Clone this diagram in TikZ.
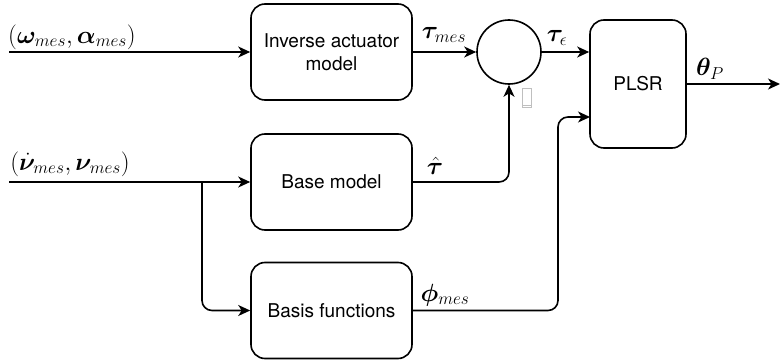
\documentclass[tikz,border=0pt]{standalone}
\usepackage{amsmath}
\usepackage{bm}
\usepackage{fontspec}
\setsansfont{TeX Gyre Heros}
\usetikzlibrary{arrows.meta}

\tikzset{
  block/.style={draw, rounded corners=14pt, minimum width=161pt, minimum height=96pt,
    align=center, font=\sffamily\fontsize{19}{23}\selectfont},
  lbl/.style={inner sep=0pt, font=\fontsize{23.5}{28}\selectfont},
  flow/.style={-{Stealth[length=12pt,width=11pt,inset=3.5pt]}}
}

\begin{document}
\begin{tikzpicture}[x=1pt, y=-1pt, line width=1.6pt]
          \useasboundingbox (0,0) rectangle (780,364);
          % blocks
          \node[block] (inv) at (331.5,52) {Inverse actuator\\model};
          \node[block] (base) at (331.5,182) {Base model};
          \node[block] (basis) at (331.5,310.5) {Basis functions};
          \node[circle, draw, minimum size=64pt, inner sep=0pt] (sum) at (509,52) {};
          \node[block, minimum width=96pt, minimum height=128pt] (plsr) at (638,84) {PLSR};
          \node[draw=gray!50, line width=0.8pt, minimum width=9pt, minimum height=19pt, inner sep=0pt] (tofu) at (527,98) {};
          \draw[gray!50, line width=0.8pt] ([yshift=3pt]tofu.south west) -- ([yshift=3pt]tofu.south east);
          % free ends
          \coordinate (in1) at (9,52);
          \coordinate (in2) at (9,182);
          \coordinate (split) at (202,182);
          \coordinate (plsrin) at (590,117);
          \coordinate (out) at (780,84);
          % labels
          \node[lbl] (omal) at (72,37) {$(\bm{\omega}_{mes}, \bm{\alpha}_{mes})$};
          \node[lbl] (nunu) at (70,164) {$(\dot{\bm{\nu}}_{mes}, \bm{\nu}_{mes})$};
          \node[lbl] (taumes) at (444,35) {$\bm{\tau}_{mes}$};
          \node[lbl] (taueps) at (557,38) {$\bm{\tau}_{\epsilon}$};
          \node[lbl] (tauhat) at (435,166) {$\hat{\bm{\tau}}$};
          \node[lbl] (phimes) at (445,295) {$\bm{\phi}_{mes}$};
          \node[lbl] (thetap) at (710,69) {$\bm{\theta}_P$};
          % connectors
          \draw[flow] (in1) -- (inv.west);
          \draw[flow] (inv.east) -- (sum.west);
          \draw[flow] (sum.east) -- (sum.east -| plsr.west);
          \draw[flow] (plsr.east) -- (out);
          \draw[flow] (in2) -- (base.west);
          \draw[flow, rounded corners=10pt] (split) |- (basis.west);
          \draw[flow, rounded corners=10pt] (base.east) -| (sum.south);
          \draw[flow, rounded corners=10pt] (basis.east) -| ([xshift=-32pt]plsrin) -- (plsrin);
        \end{tikzpicture}
\end{document}
